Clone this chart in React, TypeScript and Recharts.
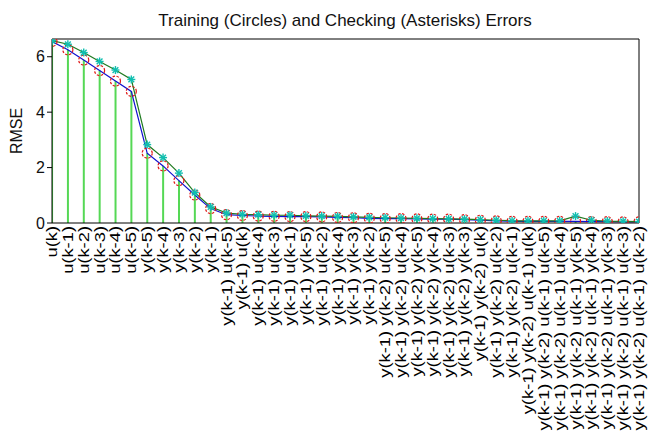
import { ComposedChart, Bar, Line, XAxis, YAxis } from 'recharts';

const FONT = '"Liberation Sans", Arial, Helvetica, sans-serif';

// input combinations, in the order they were tried (1, 2, 3 and 4 inputs)
const inputLabels = [
  'u(k)', 'u(k-1)', 'u(k-2)', 'u(k-3)', 'u(k-4)', 'u(k-5)',
  'y(k-5)', 'y(k-4)', 'y(k-3)', 'y(k-2)', 'y(k-1)',
  'y(k-1) u(k-5)', 'y(k-1) u(k)', 'y(k-1) u(k-4)', 'y(k-1) u(k-3)', 'y(k-1) u(k-1)',
  'y(k-1) y(k-5)', 'y(k-1) u(k-2)', 'y(k-1) y(k-4)', 'y(k-1) y(k-3)', 'y(k-1) y(k-2)',
  'y(k-1) y(k-2) u(k-5)', 'y(k-1) y(k-2) u(k-4)', 'y(k-1) y(k-2) y(k-5)',
  'y(k-1) y(k-2) y(k-4)', 'y(k-1) y(k-2) u(k-3)', 'y(k-1) y(k-2) y(k-3)',
  'y(k-1) y(k-2) u(k)', 'y(k-1) y(k-2) u(k-2)', 'y(k-1) y(k-2) u(k-1)',
  'y(k-1) y(k-2) u(k-1) u(k)', 'y(k-1) y(k-2) u(k-1) u(k-5)',
  'y(k-1) y(k-2) u(k-1) u(k-4)', 'y(k-1) y(k-2) u(k-1) y(k-5)',
  'y(k-1) y(k-2) u(k-1) y(k-4)', 'y(k-1) y(k-2) u(k-1) y(k-3)',
  'y(k-1) y(k-2) u(k-1) u(k-3)', 'y(k-1) y(k-2) u(k-1) u(k-2)',
];

const trnError = [
  6.55, 6.25, 5.88, 5.5, 5.12, 4.75, 2.52, 2.06, 1.53, 1.01, 0.52,
  0.3, 0.27, 0.25, 0.24, 0.23, 0.23, 0.22, 0.2, 0.19,
  0.17, 0.16, 0.16, 0.15, 0.14, 0.14, 0.12, 0.1, 0.08,
  0.06, 0.06, 0.06, 0.06, 0.06, 0.05, 0.05, 0.04, 0.04,
];

const chkError = [
  6.58, 6.45, 6.15, 5.83, 5.52, 5.18, 2.83, 2.36, 1.8, 1.1, 0.58,
  0.36, 0.31, 0.3, 0.28, 0.28, 0.26, 0.25, 0.24, 0.22,
  0.2, 0.19, 0.18, 0.17, 0.16, 0.15, 0.14, 0.12, 0.1,
  0.08, 0.08, 0.08, 0.08, 0.25, 0.1, 0.07, 0.06, 0.05,
];

const yTicks = [0, 2, 4, 6];
const frameTicks = [5, 10, 15, 20, 25, 30, 35];

const data = inputLabels.map((label, i) => ({
  idx: i + 1,
  label,
  trn: trnError[i],
  chk: chkError[i],
}));

function InputTick(props: any) {
  const { x, y, payload } = props;
  const label = inputLabels[payload.value - 1];
  return (
    <text
      transform={`translate(${x},${y + 3}) rotate(-90) scale(1.31,1)`}
      x={0}
      y={5}
      textAnchor="end"
      fontSize={14}
      fontFamily={FONT}
      fill="#000"
    >
      {label}
    </text>
  );
}

function CircleDot(props: any) {
  const { cx, cy, index } = props;
  if (cx == null || cy == null) return <g key={index} />;
  return (
    <circle
      key={index}
      cx={cx}
      cy={cy}
      r={5}
      fill="none"
      stroke="#e01818"
      strokeWidth={1.2}
      strokeDasharray="2.5 1.5"
    />
  );
}

function StarDot(props: any) {
  const { cx, cy, index } = props;
  if (cx == null || cy == null) return <g key={index} />;
  const r = 4;
  const d = r * 0.72;
  return (
    <g key={index} stroke="#10bfb0" strokeWidth={1.4}>
      <line x1={cx - r} y1={cy} x2={cx + r} y2={cy} />
      <line x1={cx} y1={cy - r} x2={cx} y2={cy + r} />
      <line x1={cx - d} y1={cy - d} x2={cx + d} y2={cy + d} />
      <line x1={cx - d} y1={cy + d} x2={cx + d} y2={cy - d} />
    </g>
  );
}

export default function App() {
  return (
    <div style={{ position: 'absolute', left: 0, top: 0, width: 648, height: 433, background: '#fff' }}>
      <div
        style={{
          position: 'absolute',
          left: 52,
          width: 586,
          top: 12,
          textAlign: 'center',
          fontFamily: FONT,
          fontSize: 17,
          lineHeight: '17px',
          color: '#111',
          whiteSpace: 'nowrap',
        }}
      >
        Training (Circles) and Checking (Asterisks) Errors
      </div>
      <div
        style={{
          position: 'absolute',
          left: 17,
          top: 131,
          transform: 'translate(-50%, -50%) rotate(-90deg)',
          fontFamily: FONT,
          fontSize: 16,
          lineHeight: '16px',
          color: '#111',
          whiteSpace: 'nowrap',
        }}
      >
        RMSE
      </div>
      <ComposedChart
        width={648}
        height={433}
        data={data}
        margin={{ top: 39, right: 9, bottom: 0, left: 0 }}
      >
        <XAxis
          dataKey="idx"
          type="number"
          domain={[1, 38]}
          ticks={data.map((d) => d.idx)}
          interval={0}
          tick={<InputTick />}
          tickLine={false}
          tickSize={0}
          tickMargin={0}
          height={210}
          stroke="#000"
          allowDataOverflow
        />
        <XAxis
          xAxisId="top"
          orientation="top"
          type="number"
          domain={[1, 38]}
          ticks={frameTicks}
          mirror
          tick={false}
          tickSize={5}
          height={1}
          stroke="#000"
          allowDataOverflow
        />
        <YAxis
          type="number"
          domain={[0, 6.64]}
          ticks={yTicks}
          width={52}
          tickSize={5}
          tick={{ fontSize: 16, fill: '#111', fontFamily: FONT }}
          stroke="#000"
          allowDataOverflow
        />
        <YAxis
          yAxisId="right"
          orientation="right"
          type="number"
          domain={[0, 6.64]}
          ticks={yTicks}
          mirror
          tick={false}
          tickSize={5}
          width={1}
          stroke="#000"
          allowDataOverflow
        />
        <Bar dataKey="trn" barSize={2} fill="#55d855" isAnimationActive={false} />
        <Line dataKey="trn" stroke="#1010d0" strokeWidth={1.2} dot={false} isAnimationActive={false} />
        <Line dataKey="chk" stroke="#1f7a1f" strokeWidth={1.2} dot={false} isAnimationActive={false} />
        <Line dataKey="trn" stroke="none" dot={CircleDot} activeDot={false} isAnimationActive={false} />
        <Line dataKey="chk" stroke="none" dot={StarDot} activeDot={false} isAnimationActive={false} />
      </ComposedChart>
    </div>
  );
}
